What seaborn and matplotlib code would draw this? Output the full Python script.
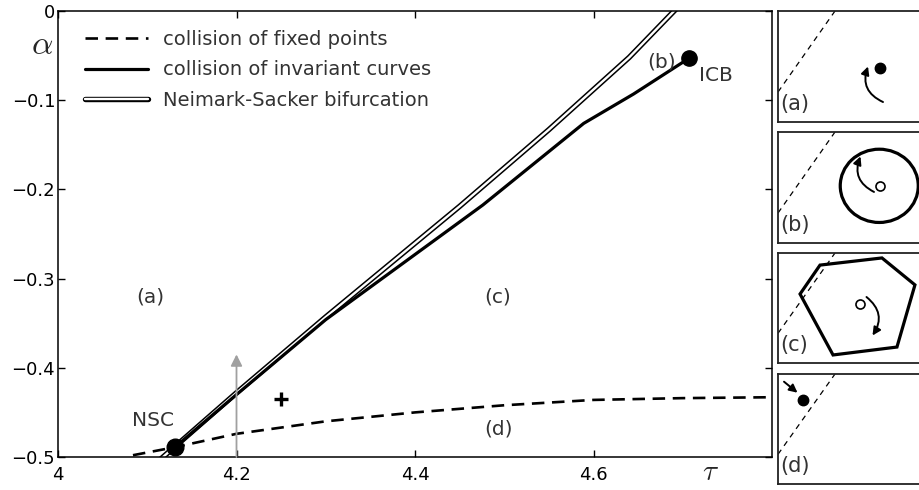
import numpy as np
import seaborn as sns
import matplotlib.pyplot as plt
import matplotlib.patheffects as pe
from matplotlib.patches import FancyArrowPatch, Ellipse, Polygon
from matplotlib.ticker import FuncFormatter

# curves (tau, alpha)
fp_tau = [4.084, 4.131, 4.2, 4.3, 4.4, 4.5, 4.6, 4.7, 4.8]
fp_alpha = [-0.498, -0.489, -0.474, -0.460, -0.450, -0.442, -0.436, -0.434, -0.433]

ic_tau = [4.131, 4.2, 4.3, 4.476, 4.589, 4.645, 4.707]
ic_alpha = [-0.489, -0.430, -0.346, -0.2175, -0.126, -0.093, -0.053]

ns_tau = [4.112, 4.2, 4.3, 4.45, 4.55, 4.64, 4.70]
ns_alpha = [-0.505, -0.428, -0.343, -0.219, -0.133, -0.052, 0.01]

nsc_pt = (4.131, -0.489)
icb_pt = (4.707, -0.053)
plus_pt = (4.25, -0.435)
arrow_tau = 4.2
arrow_alpha = (-0.5, -0.385)

legend_labels = ["collision of fixed points", "collision of invariant curves",
                 "Neimark-Sacker bifurcation"]
xticks = [4, 4.2, 4.4, 4.6]
yticks = [0, -0.1, -0.2, -0.3, -0.4, -0.5]

# small schematic panels, unit square coords
diag_x = [0.0, 0.38]
diag_y = [0.27, 1.0]
hexagon_x = [0.28, 0.693, 0.913, 0.793, 0.367, 0.147]
hexagon_y = [0.89, 0.955, 0.71, 0.145, 0.073, 0.627]

TXT = "#333333"

sns.set_style("ticks")
plt.rcParams["font.family"] = ["DejaVu Sans"]
plt.rcParams["mathtext.fontset"] = "cm"
plt.rcParams["lines.scale_dashes"] = False

W, H = 920, 490
fig = plt.figure(figsize=(W / 100, H / 100), dpi=100)


def box(l, t, r, b):
    return [l / W, 1 - b / H, (r - l) / W, (b - t) / H]


ax = fig.add_axes(box(58, 11, 772, 457))

# Neimark-Sacker: double line
sns.lineplot(x=ns_tau, y=ns_alpha, ax=ax, color="white", lw=1.7, sort=False,
             estimator=None, solid_capstyle="round",
             path_effects=[pe.Stroke(linewidth=3.9, foreground="black",
                                     capstyle="round"), pe.Normal()])
ns_line = ax.lines[-1]
sns.lineplot(x=fp_tau, y=fp_alpha, ax=ax, color="black", lw=1.9, sort=False,
             estimator=None)
fp_line = ax.lines[-1]
fp_line.set_linestyle((0, (9, 5.5)))
sns.lineplot(x=ic_tau, y=ic_alpha, ax=ax, color="black", lw=2.3, sort=False,
             estimator=None)
ic_line = ax.lines[-1]

ax.plot(*nsc_pt, "o", color="black", ms=12, zorder=5)
ax.plot(*icb_pt, "o", color="black", ms=11, zorder=5)
ax.plot(*plus_pt, "+", color="black", ms=10, mew=2.4)
ax.annotate("", xy=(arrow_tau, arrow_alpha[1]), xytext=(arrow_tau, arrow_alpha[0]),
            arrowprops=dict(arrowstyle="-|>", color="#a0a0a0", lw=1.3,
                            mutation_scale=17, shrinkA=0, shrinkB=0))

for txt, x, y in [("(a)", 4.103, -0.321), ("(c)", 4.493, -0.321),
                  ("(b)", 4.676, -0.057), ("(d)", 4.493, -0.469),
                  ("NSC", 4.107, -0.459), ("ICB", 4.737, -0.072)]:
    ax.text(x, y, txt, color=TXT, fontsize=14.5, ha="center", va="center")

ax.set_xlim(4, 4.8)
ax.set_ylim(-0.5, 0)
ax.set_xticks(xticks)
ax.set_yticks(yticks)
fmt = FuncFormatter(lambda v, p: f"{v:g}".replace("-", "\u2212"))
ax.xaxis.set_major_formatter(fmt)
ax.yaxis.set_major_formatter(fmt)
ax.tick_params(direction="in", top=True, right=True, length=5, width=1,
               labelsize=13, colors="black")
ax.tick_params(axis="y", pad=2)
ax.tick_params(axis="x", pad=6.5)
for s in ax.spines.values():
    s.set_linewidth(1.1)
    s.set_color("black")
ax.set_xlabel("")
ax.set_ylabel("")

leg = ax.legend([fp_line, ic_line, ns_line], legend_labels, loc="upper left",
                frameon=False, fontsize=14, handlelength=3.25, labelspacing=0.58,
                handletextpad=0.75, borderpad=0, borderaxespad=0,
                bbox_to_anchor=(0.038, 0.957))
for t in leg.get_texts():
    t.set_color(TXT)

fig.text(42 / W, 1 - 45 / H, r"$\alpha$", fontsize=24, ha="center", va="center")
fig.text(711 / W, 1 - 472 / H, r"$\tau$", fontsize=21, ha="center", va="center")

# right-hand schematic panels
panels = [(11, 122), (132, 243), (253, 363), (374, 484)]
names = ["(a)", "(b)", "(c)", "(d)"]
axs = []
for (t, b), name in zip(panels, names):
    pa = fig.add_axes(box(778, t, 928, b))
    pa.set_xlim(0, 1)
    pa.set_ylim(0, 1)
    pa.set_xticks([])
    pa.set_yticks([])
    for s in pa.spines.values():
        s.set_linewidth(1.3)
        s.set_color("#222222")
    sns.lineplot(x=diag_x, y=diag_y, ax=pa, color="black", lw=0.9,
                 estimator=None, sort=False)
    pa.lines[-1].set_linestyle((0, (4, 3.5)))
    pa.text(0.015, 0.16, name, color=TXT, fontsize=15, ha="left", va="center")
    axs.append(pa)


def curved(pa, start, end, rad):
    pa.add_patch(FancyArrowPatch(start, end, connectionstyle=f"arc3,rad={rad}",
                                 arrowstyle="-|>", mutation_scale=12,
                                 color="black", lw=1.4, shrinkA=0, shrinkB=0))


# (a) stable focus
axs[0].plot(0.68, 0.49, "o", color="black", ms=7.5)
curved(axs[0], (0.70, 0.18), (0.60, 0.50), -0.45)
# (b) invariant circle
axs[1].add_patch(Ellipse((0.675, 0.515), 0.52, 0.66, fill=False, lw=2.3,
                         color="black"))
axs[1].plot(0.68, 0.51, "o", mfc="white", mec="black", ms=6.5, mew=1.2)
curved(axs[1], (0.64, 0.46), (0.55, 0.78), -0.45)
# (c) polygon
axs[2].add_patch(Polygon(list(zip(hexagon_x, hexagon_y)), closed=True,
                         fill=False, lw=2.3, color="black"))
axs[2].plot(0.547, 0.536, "o", mfc="white", mec="black", ms=6.5, mew=1.2)
curved(axs[2], (0.59, 0.60), (0.63, 0.25), -0.45)
# (d) fixed point on the line
axs[3].plot(0.167, 0.764, "o", color="black", ms=7.5)
axs[3].annotate("", xy=(0.13, 0.83), xytext=(0.04, 0.93),
                arrowprops=dict(arrowstyle="-|>", color="black", lw=1.4,
                                mutation_scale=12, shrinkA=0, shrinkB=0))

fig.savefig("out.png", dpi=100)
